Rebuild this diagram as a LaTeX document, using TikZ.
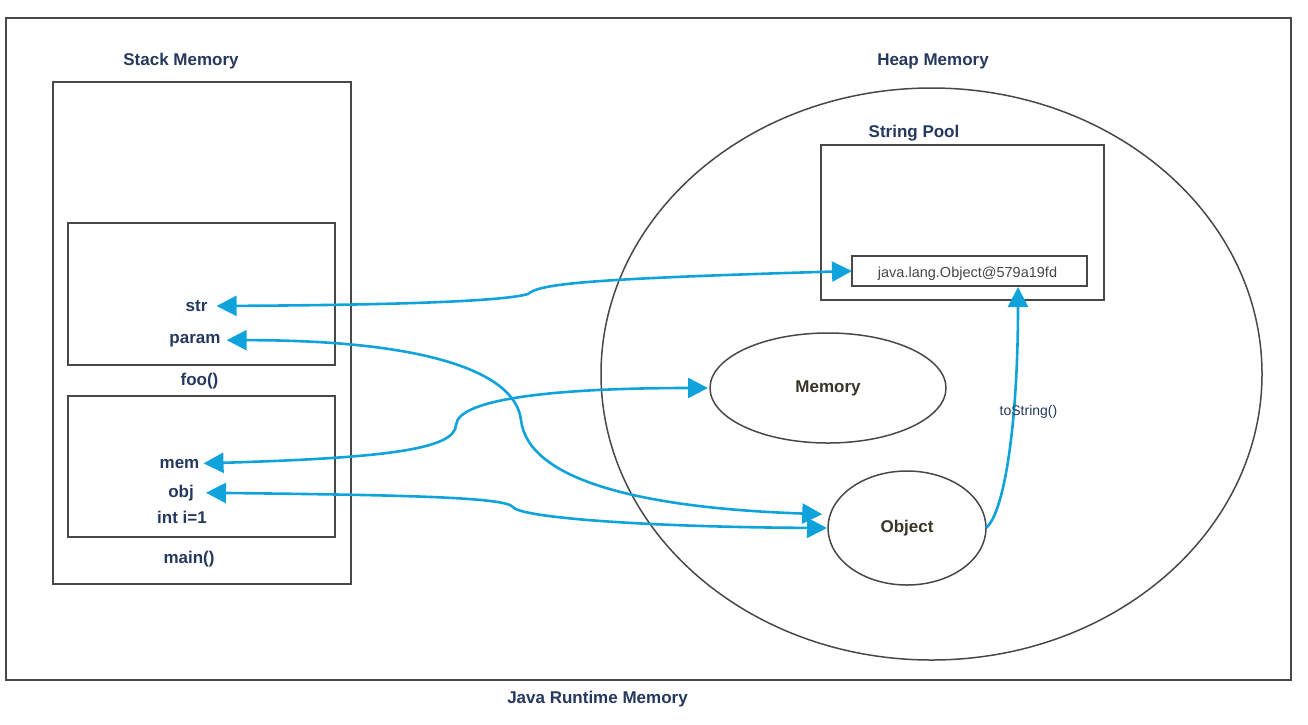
\documentclass[tikz,border=0pt]{standalone}
\usepackage{fontspec}
\setmainfont{Liberation Sans}
\usetikzlibrary{arrows.meta,shapes.geometric}
\definecolor{ink}{RGB}{37,56,94}
\definecolor{flow}{RGB}{16,163,219}
\definecolor{edge}{RGB}{72,72,72}
\definecolor{heapink}{RGB}{58,52,40}
\definecolor{poolink}{RGB}{70,70,70}

\begin{document}
\begin{tikzpicture}[x=1pt,y=-1pt,
  frame/.style={draw=edge,line width=1.5pt,rectangle,inner sep=0pt,outer sep=0pt},
  blob/.style={draw=edge,line width=1.5pt,ellipse,inner sep=0pt,outer sep=0pt},
  lbl/.style={font=\fontsize{17}{20}\selectfont\bfseries,text=ink,inner sep=0pt,anchor=base},
  tip/.style={Triangle[length=20pt,width=20pt]},
  conn/.style={draw=flow,line width=2.6pt},
  both/.style={conn,{Triangle[length=20pt,width=20pt]}-{Triangle[length=20pt,width=20pt]}},
  one/.style={conn,-{Triangle[length=20pt,width=20pt]}}
]
\path[use as bounding box] (0,0) rectangle (1308,724);

% runtime frame and its caption
\node[frame,minimum width=1285pt,minimum height=662pt] (runtime) at (648.5,349) {};
\node[lbl] (rtcap) at (597.5,703) {Java Runtime Memory};

% stack side
\node[lbl] (stackcap) at (181,65) {Stack Memory};
\node[frame,minimum width=298pt,minimum height=502pt] (stack) at (202,333) {};
\node[frame,minimum width=267pt,minimum height=142pt] (foo) at (201.5,294) {};
\node[frame,minimum width=267pt,minimum height=141pt] (mainf) at (201.5,466.5) {};
\node[lbl] (foocap) at (199.5,385) {foo()};
\node[lbl] (maincap) at (189,563) {main()};

\node[lbl] (str) at (196.5,311.5) {str};
\node[lbl] (param) at (195,343) {param};
\node[lbl] (mem) at (179.5,468) {mem};
\node[lbl] (obj) at (181,497) {obj};
\node[lbl] (ivar) at (182,523) {int i=1};

% heap side
\node[lbl] (heapcap) at (933,65) {Heap Memory};
\node[blob,minimum width=661pt,minimum height=572pt] (heap) at (931.5,374) {};
\node[lbl] (poolcap) at (914,137) {String Pool};
\node[frame,minimum width=283pt,minimum height=155pt] (pool) at (962.5,222.5) {};
\node[frame,minimum width=235pt,minimum height=30pt] (ip) at (969.5,271) {};
\node[font=\fontsize{14.5}{17}\selectfont,text=poolink,inner sep=0pt,anchor=base] (iptext) at (967.5,277) {java.lang.Object@579a19fd};

\node[blob,minimum width=236pt,minimum height=110pt,
      font=\fontsize{17}{20}\selectfont\bfseries,text=heapink] (memory) at (828,388) {Memory};
\node[blob,minimum width=158pt,minimum height=114pt,
      font=\fontsize{17}{20}\selectfont\bfseries,text=heapink] (object) at (907,528) {Object};

% references from stack frames into the heap
\draw[both,shorten <=9pt] (str.east) .. controls (380,305) and (500,302) .. (528,294)
      .. controls (540,284) and (580,279) .. (ip.west);
\draw[both,shorten <=6pt,shorten >=8pt] (param.east) .. controls (420,340) and (515,370) .. (521,420)
      .. controls (528,480) and (640,508) .. (object.170);
\draw[both,shorten <=4pt,shorten >=2pt] (mem.east) .. controls (380,458) and (455,450) .. (456,425)
      .. controls (458,398) and (560,388) .. (memory.west);
\draw[both,shorten <=12pt,shorten >=1pt] (obj.east) .. controls (400,495) and (505,497) .. (513,507)
      .. controls (521,518) and (650,527) .. (object.west);

% toString() call producing the pooled string
\draw[one,shorten >=1pt] (object.east) .. controls (1005,512) and (1018,420) .. ([xshift=48.5pt]ip.south);
\node[font=\fontsize{14}{17}\selectfont,text=ink,inner sep=0pt,anchor=base] (tostr) at (1028.5,415) {toString()};
\end{tikzpicture}
\end{document}
